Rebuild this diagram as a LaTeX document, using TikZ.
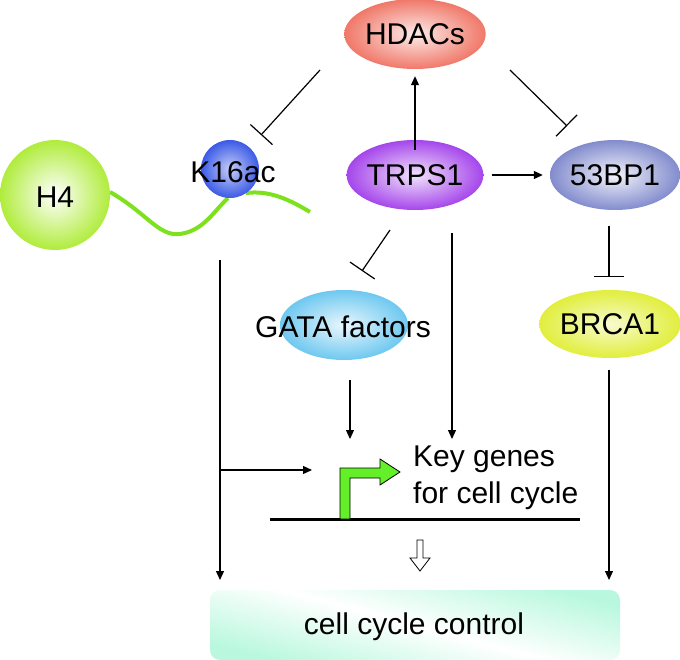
\documentclass[tikz,border=0pt]{standalone}
\usepackage{fontspec}
\setmainfont{Liberation Sans}
\usetikzlibrary{arrows.meta,shapes.geometric}
\definecolor{hfour}{RGB}{176,236,60}
\definecolor{kblue}{RGB}{60,90,230}
\definecolor{hdac}{RGB}{240,120,105}
\definecolor{trps}{RGB}{165,70,235}
\definecolor{bp}{RGB}{130,140,205}
\definecolor{gata}{RGB}{110,200,240}
\definecolor{brca}{RGB}{225,238,60}
\definecolor{tail}{RGB}{125,225,30}
\definecolor{mint}{RGB}{185,248,222}
\definecolor{prom}{RGB}{100,240,40}
\tikzset{
  lbl/.style={font=\fontsize{30}{36}\selectfont, text=black},
  oval/.style={ellipse, draw=none, inner sep=0pt, minimum width=130pt, minimum height=70pt, lbl},
  act/.style={line width=1.2pt, -{Triangle[length=9pt,width=8pt]}},
  inh/.style={line width=1.2pt, -{Bar[width=30pt,line width=1.2pt]}},
}
\begin{document}
\begin{tikzpicture}[x=1pt,y=-1pt]
\useasboundingbox (0,0) rectangle (680,660);
% histone tail
\draw[tail, line width=4pt] (110,192) .. controls (150,215) and (160,240) .. (185,233) .. controls (205,228) and (215,210) .. (228,198);
\draw[tail, line width=4pt] (246,193) .. controls (270,190) and (290,200) .. (310,212);
% nodes
\node[circle, minimum size=110pt, inner sep=0pt, shading=radial, inner color=white, outer color=hfour, lbl] (h4) at (55,195) {};
\node[lbl] at (55,197) {H4};
\node[circle, minimum size=58pt, inner sep=0pt, shading=radial, inner color=kblue!30, outer color=kblue] (k16) at (230,169) {};
\node[lbl] (k16t) at (233,172) {K16ac};
\node[oval, shading=radial, inner color=hdac!15, outer color=hdac] (hdac) at (415,34) {HDACs};
\node[oval, shading=radial, inner color=trps!15, outer color=trps] (trps) at (415,175) {TRPS1};
\node[oval, shading=radial, inner color=bp!10, outer color=bp] (bp) at (615,175) {53BP1};
\node[ellipse, inner sep=0pt, minimum width=128pt, minimum height=70pt, shading=radial, inner color=gata!15, outer color=gata] (gataE) at (344,325) {};
\node[lbl] (gata) at (343,327) {GATA factors};
\node[oval, minimum width=130pt, minimum height=68pt, shading=radial, inner color=brca!25, outer color=brca] (brca) at (610,324) {BRCA1};
% cell cycle control box
\node[rounded corners=10pt, minimum width=410pt, minimum height=70pt, inner sep=0pt,
  top color=mint, bottom color=mint, middle color=white, shading angle=-15, lbl] (ccc) at (415,625) {};
\node[lbl] (ccct) at (414,627) {cell cycle control};
% key genes
\node[lbl, anchor=north west, align=left, inner sep=0pt] (key) at (413,446) {Key genes\\[1pt]for cell cycle};
\coordinate (bl) at (270,519);
\coordinate (br) at (580,519);
\draw[line width=3pt] (bl) -- (br);
\draw[fill=prom, draw=black, line width=0.8pt] (340,519) -- (340,468) -- (380,468) -- (380,459) -- (400,472) -- (380,485) -- (380,478) -- (350,478) -- (350,519) -- cycle;
% connectors
\draw[act] ([yshift=-10pt]trps.north) -- ([yshift=-7pt]hdac.south);
\draw[act] ([xshift=8pt]trps.east) -- ([xshift=-7pt]bp.west);
\coordinate (hA) at (510,70);
\coordinate (hB) at (567,126);
\draw[inh] (hA) -- (hB);
\coordinate (hC) at (320,70);
\coordinate (hD) at (261,135);
\draw[inh] (hC) -- (hD);
\coordinate (tA) at (390,230);
\coordinate (tB) at (362,271);
\draw[inh] (tA) -- (tB);
\coordinate (tC) at (452,233);
\coordinate (kT) at (452,439);
\draw[act] (tC) -- (kT);
\coordinate (gA) at (350,380);
\coordinate (gB) at (350,439);
\draw[act] (gA) -- (gB);
\coordinate (bA) at (609,226);
\coordinate (bB) at (609,277);
\draw[inh] (bA) -- (bB);
\coordinate (bC) at (609,370);
\coordinate (bD) at (609,580);
\draw[act] (bC) -- (bD);
\coordinate (lA) at (220,260);
\coordinate (lB) at (220,580);
\coordinate (lM) at (220,470);
\coordinate (lE) at (312,470);
\draw[act] (lA) -- (lB);
\draw[act] (lM) -- (lE);
% hollow arrow
\draw[line width=0.8pt, fill=white] (417,540) -- (423,540) -- (423,558) -- (430,558) -- (420,571) -- (410,558) -- (417,558) -- cycle;
\end{tikzpicture}
\end{document}
